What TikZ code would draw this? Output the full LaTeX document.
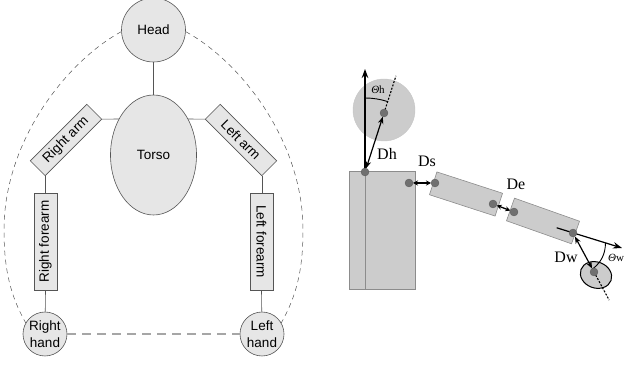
\documentclass[tikz,border=0pt]{standalone}
\usepackage{fontspec}
\setmainfont{Liberation Serif}
\setsansfont{Liberation Sans}
\usetikzlibrary{arrows.meta,calc,shapes.geometric}
\definecolor{lfill}{HTML}{E6E6E6}
\definecolor{ldraw}{HTML}{555555}
\definecolor{rfill}{HTML}{CCCCCC}
\definecolor{rdraw}{HTML}{8C8C8C}
\definecolor{dotc}{HTML}{707070}
\begin{document}
\begin{tikzpicture}[x=1pt,y=1pt,
 part/.style={draw=ldraw,fill=lfill,line width=0.6pt,font=\sffamily\fontsize{13.5}{16}\selectfont,inner sep=0pt},
 limb/.style={part,rectangle,minimum width=80pt,minimum height=21pt},
 forelimb/.style={part,rectangle,minimum width=97pt,minimum height=23pt},
 handnode/.style={part,circle,minimum size=44pt,align=center,font=\sffamily\fontsize{13.5}{17.5}\selectfont},
 link/.style={draw=ldraw,line width=0.6pt},
 envelope/.style={draw=ldraw,line width=0.5pt,dash pattern=on 5pt off 4pt},
 handlink/.style={draw=gray!70,line width=1.2pt,dash pattern=on 9pt off 6pt},
 seg/.style={draw=rdraw,fill=rfill,line width=0.6pt,minimum width=69pt,minimum height=24pt,inner sep=0pt},
 joint/.style={circle,fill=dotc,draw=dotc!80!black,line width=0.3pt,minimum size=8pt,inner sep=0pt},
 vec/.style={line width=1.2pt,{Stealth[length=7pt,width=5.5pt]}-{Stealth[length=7pt,width=5.5pt]},shorten <=4pt,shorten >=4pt},
 vecs/.style={line width=1.3pt,{Stealth[length=5pt,width=5pt]}-{Stealth[length=5pt,width=5pt]},shorten <=4pt,shorten >=4pt},
 ray/.style={line width=1.2pt,-{Stealth[length=9pt,width=6.5pt]}},
 dotline/.style={line width=1.1pt,dash pattern=on 2pt off 1.5pt},
 lab/.style={font=\fontsize{16}{18}\selectfont,inner sep=0pt},
 anglab/.style={font=\fontsize{11}{12}\selectfont,inner sep=0pt},
]
\useasboundingbox (0,0) rectangle (626,366);

% ---------------- left: graph ----------------
\node[part,circle,minimum size=64pt] (head) at (153.5,336) {Head};
\node[part,ellipse,minimum width=86pt,minimum height=120pt] (torso) at (153.5,211) {Torso};
\node[limb,rotate=45] (rarm) at (66,226) {Right arm};
\node[limb,rotate=-45] (larm) at (241,226) {Left arm};
\node[forelimb,rotate=90] (rfore) at (45.5,124.5) {Right forearm};
\node[forelimb,rotate=-90] (lfore) at (261.5,124.5) {Left forearm};
\node[handnode] (rhand) at (45,32) {Right\\hand};
\node[handnode] (lhand) at (262,32) {Left\\hand};

\draw[link] (head) -- (torso);
\draw[link] (rarm.south east) -- (torso.134);
\draw[link] (larm.south west) -- (torso.46);
\draw[link] (rarm.south west) -- (rarm.south west |- rfore.east);
\draw[link] (larm.south east) -- (larm.south east |- lfore.west);
\draw[link] (rfore.west) -- (rhand);
\draw[link] (lfore.east) -- (lhand);
\draw[handlink] (rhand) -- (lhand);
\draw[envelope] (head.183) .. controls (67.5,305) and (4,226) .. (4,136)
  .. controls (4,96) and (10.5,70.2) .. (rhand.150);
\draw[envelope] (head.-3) .. controls (239.5,305) and (303,226) .. (303,136)
  .. controls (303,96) and (296.5,70.2) .. (lhand.30);

% ---------------- right: kinematic model ----------------
\coordinate (N) at (365,194);
\coordinate (H) at (384,253);
\coordinate (S1) at (409,183);
\coordinate (S2) at (435,183);
\coordinate (E1) at (493,162);
\coordinate (E2) at (514,154);
\coordinate (W) at (573,133);
\coordinate (Hd) at (594,94);
\coordinate (up) at (365,297);
\coordinate (fa0) at (556.7,138.2);
\coordinate (fa1) at (622,118);

\node[seg,minimum width=66pt,minimum height=118pt,anchor=south west] (body) at (349,76) {};
\draw[rdraw,line width=0.6pt] (body.south west) ++(16,0) coordinate (b0) -- (b0 |- body.north);
\node[circle,fill=rfill,draw=rdraw!50,line width=0.4pt,minimum size=62pt,inner sep=0pt] (headR) at (384,256) {};
\node[seg,rotate=-18] (uarm) at (466,172) {};
\node[seg,rotate=-19.5] (farm) at (543,145) {};
\draw[fill=rfill,line width=1pt,rotate around={-20:(596,91)}] (596,91) ellipse [x radius=16, y radius=13];

\draw[ray] (N) -- (up);
\draw[vec] (N) -- (H);
\draw[dotline] (H) -- ($(N)!1.63!(H)$);
\draw[line width=0.9pt] ($(N)+(90:74)$) arc[start angle=90,end angle=72.2,radius=74];
\draw[vecs] (S1) -- (S2);
\draw[vecs] (E1) -- (E2);
\draw[ray] (fa0) -- (fa1);
\draw[vec] (W) -- (Hd);
\draw[dotline] (Hd) -- ($(W)!1.72!(Hd)$);
\draw[line width=0.9pt] ($(W)+(-17:34)$) to[bend left=25] ($(W)+(-61.7:41)$);

\foreach \j in {N,H,S1,S2,E1,E2,W,Hd} \node[joint] (dot\j) at (\j) {};

\node[anglab] (th) at (378,276) {\textit{Θ}h};
\node[lab] (dh) at (387,212) {Dh};
\node[lab] (ds) at (427,205) {Ds};
\node[lab] (de) at (516,182) {De};
\node[lab] (dw) at (566,109) {Dw};
\node[anglab] (tw) at (616,108) {\textit{Θ}w};
\end{tikzpicture}
\end{document}
